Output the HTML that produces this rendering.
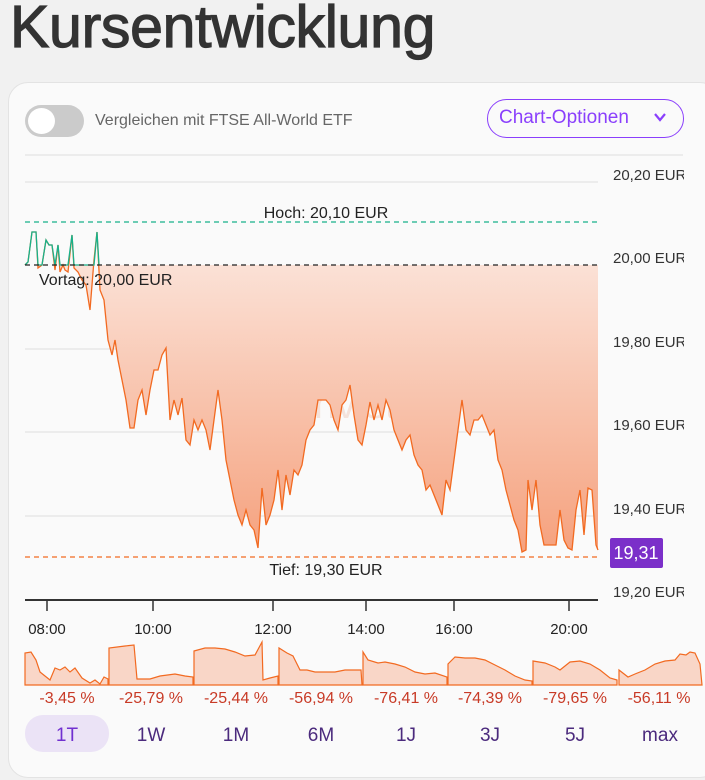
<!DOCTYPE html>
<html><head><meta charset="utf-8"><style>
body{margin:0;width:705px;height:780px;background:#f1f1f1;font-family:"Liberation Sans",sans-serif;position:relative;overflow:hidden}
.t{position:absolute;white-space:nowrap}
</style></head><body>
<div class="t" style="left:10px;top:-7px;font-size:59px;color:#333;letter-spacing:-0.3px;-webkit-text-stroke:1.2px #333">Kursentwicklung</div>
<div style="position:absolute;left:8px;top:82px;width:710px;height:694px;background:#fafafa;border:1px solid #e3e3e3;border-radius:20px"></div>
<div style="position:absolute;left:25px;top:105px;width:59px;height:32px;border-radius:16px;background:#cbcbcb"></div>
<div style="position:absolute;left:28px;top:108px;width:27px;height:26px;border-radius:50%;background:#fff"></div>
<div class="t" style="left:95px;top:112px;font-size:16px;color:#666">Vergleichen mit FTSE All-World ETF</div>
<div style="position:absolute;left:487px;top:99px;width:195px;height:37px;border:1.5px solid #8a3ffc;border-radius:20px"></div>
<div class="t" style="left:499px;top:107px;font-size:19px;color:#8a3ffc">Chart-Optionen</div>
<svg style="position:absolute;left:0;top:0" width="705" height="780">
<defs>
<linearGradient id="g" x1="0" y1="265" x2="0" y2="557" gradientUnits="userSpaceOnUse"><stop offset="0" stop-color="#fbe1d6"/><stop offset="1" stop-color="#f5a07c"/></linearGradient>
<clipPath id="below"><rect x="0" y="265" width="705" height="400"/></clipPath>
<clipPath id="above"><rect x="0" y="0" width="705" height="265"/></clipPath>
</defs>
<polyline points="655,114 660,120 665,114" fill="none" stroke="#8a3ffc" stroke-width="2.2"/>
<line x1="25" y1="155" x2="683" y2="155" stroke="#ddd"/>
<g stroke="#ddd"><line x1="25" y1="182" x2="598" y2="182"/><line x1="25" y1="349" x2="598" y2="349"/><line x1="25" y1="432" x2="598" y2="432"/><line x1="25" y1="516" x2="598" y2="516"/></g>
<g font-size="15" fill="#333"><text x="613" y="180">20,20 EUR</text><text x="613" y="263">20,00 EUR</text><text x="613" y="347">19,80 EUR</text><text x="613" y="430">19,60 EUR</text><text x="613" y="514">19,40 EUR</text><text x="613" y="597">19,20 EUR</text></g>
<rect x="684" y="160" width="30" height="450" fill="#fafafa"/>
<text x="355" y="418" font-size="40" fill="#e9b8a4" opacity="0.35" text-anchor="middle">onvista</text>
<polygon id="p" points="25,265 25,265 28,262 32,232 36,232 38,268 42,265 46,240 49,245 52,245 55,270 58,245 60,272 63,265 65,270 68,272 72,235 74,268 78,272 82,280 86,285 90,310 94,260 97,232 100,290 104,300 108,340 112,355 115,340 118,360 122,380 126,400 130,428 134,428 138,400 142,390 146,415 150,390 154,370 158,370 162,355 166,348 170,420 174,400 178,415 182,398 186,440 190,445 194,420 198,430 202,420 206,430 210,450 214,420 218,390 222,420 226,460 230,480 234,500 238,515 242,525 246,510 250,525 254,530 258,548 262,488 266,525 270,515 274,500 278,470 282,510 286,475 290,495 294,470 298,475 302,465 306,440 310,430 314,425 318,400 322,400 326,400 330,405 334,420 338,430 342,405 346,400 350,385 354,415 358,440 362,445 366,425 370,402 374,420 378,405 382,420 386,400 390,410 394,430 398,440 402,450 406,440 410,435 414,455 418,465 422,470 426,490 430,485 434,495 438,505 442,515 446,480 450,490 454,460 458,430 462,400 466,430 470,435 474,420 478,420 482,415 486,425 490,435 494,430 498,460 502,470 506,490 510,505 514,520 518,530 522,552 526,550 528,480 532,510 536,480 540,525 544,545 548,545 552,545 556,545 560,510 564,540 568,548 572,550 576,510 580,490 584,535 588,488 592,490 596,545 598,550 598,265" fill="url(#g)" clip-path="url(#below)"/>
<use href="#p" fill="#a8e0cc" clip-path="url(#above)"/>
<polyline points="25,265 28,262 32,232 36,232 38,268 42,265 46,240 49,245 52,245 55,270 58,245 60,272 63,265 65,270 68,272 72,235 74,268 78,272 82,280 86,285 90,310 94,260 97,232 100,290 104,300 108,340 112,355 115,340 118,360 122,380 126,400 130,428 134,428 138,400 142,390 146,415 150,390 154,370 158,370 162,355 166,348 170,420 174,400 178,415 182,398 186,440 190,445 194,420 198,430 202,420 206,430 210,450 214,420 218,390 222,420 226,460 230,480 234,500 238,515 242,525 246,510 250,525 254,530 258,548 262,488 266,525 270,515 274,500 278,470 282,510 286,475 290,495 294,470 298,475 302,465 306,440 310,430 314,425 318,400 322,400 326,400 330,405 334,420 338,430 342,405 346,400 350,385 354,415 358,440 362,445 366,425 370,402 374,420 378,405 382,420 386,400 390,410 394,430 398,440 402,450 406,440 410,435 414,455 418,465 422,470 426,490 430,485 434,495 438,505 442,515 446,480 450,490 454,460 458,430 462,400 466,430 470,435 474,420 478,420 482,415 486,425 490,435 494,430 498,460 502,470 506,490 510,505 514,520 518,530 522,552 526,550 528,480 532,510 536,480 540,525 544,545 548,545 552,545 556,545 560,510 564,540 568,548 572,550 576,510 580,490 584,535 588,488 592,490 596,545 598,550" fill="none" stroke="#f26a21" stroke-width="1.3"/>
<polyline points="25,265 28,262 32,232 36,232 38,265 42,265 46,240 49,245 52,245 55,265 58,245 60,265 63,265 65,265 68,265 72,235 74,265 94,265 97,232 99,265" fill="none" stroke="#18b18a" stroke-width="1.3"/>
<line x1="25" y1="222" x2="598" y2="222" stroke="#18b18a" stroke-dasharray="5,4" stroke-width="1.2"/>
<line x1="25" y1="265" x2="598" y2="265" stroke="#222" stroke-dasharray="5,4" stroke-width="1.2"/>
<line x1="25" y1="557" x2="598" y2="557" stroke="#f26a21" stroke-dasharray="5,4" stroke-width="1.2"/>
<text x="326" y="218" font-size="16" fill="#222" text-anchor="middle">Hoch: 20,10 EUR</text>
<text x="39" y="285" font-size="16" fill="#222">Vortag: 20,00 EUR</text>
<text x="326" y="575" font-size="16" fill="#222" text-anchor="middle">Tief: 19,30 EUR</text>
<rect x="610" y="538" width="53" height="30" rx="2" fill="#7b2fc9"/>
<text x="636" y="559" font-size="18" fill="#fff" text-anchor="middle">19,31</text>
<line x1="25" y1="600" x2="598" y2="600" stroke="#333" stroke-width="2"/>
<g stroke="#333" stroke-width="1.5"><line x1="47" y1="600" x2="47" y2="611"/><line x1="153" y1="600" x2="153" y2="611"/><line x1="273" y1="600" x2="273" y2="611"/><line x1="366" y1="600" x2="366" y2="611"/><line x1="454" y1="600" x2="454" y2="611"/><line x1="569" y1="600" x2="569" y2="611"/></g>
<g font-size="15" fill="#222" text-anchor="middle"><text x="47" y="634">08:00</text><text x="153" y="634">10:00</text><text x="273" y="634">12:00</text><text x="366" y="634">14:00</text><text x="454" y="634">16:00</text><text x="569" y="634">20:00</text></g>
<g fill="#f9d6c7" stroke="#f26a21" stroke-width="1.2">
<path d="M25,683 L25,653 L31,652 L36,660 L40,672 L45,676 L50,680 L55,668 L60,670 L65,667 L70,672 L75,668 L82,678 L90,683 L95,680 L100,684 L104,677 L108,679 L108,685 L25,685Z"/>
<path d="M109,685 L109,648 L125,646 L134,645 L137,679 L150,679 L160,676 L175,674 L185,676 L193,677 L193,685Z"/>
<path d="M194,685 L194,651 L205,648 L215,648 L225,649 L235,652 L245,656 L255,655 L262,642 L263,680 L270,678 L278,676 L278,685Z"/>
<path d="M279,685 L279,648 L287,653 L293,656 L295,660 L300,670 L307,670 L315,672 L325,672 L335,672 L345,670 L361,670 L362,685Z"/>
<path d="M363,685 L363,652 L368,660 L378,663 L385,662 L395,664 L405,667 L415,672 L425,674 L435,673 L447,677 L447,685Z"/>
<path d="M448,685 L448,664 L455,657 L465,658 L475,658 L485,660 L495,665 L505,670 L515,676 L525,680 L532,681 L532,685Z"/>
<path d="M533,685 L533,661 L545,663 L555,667 L560,670 L570,662 L580,661 L590,664 L600,670 L610,678 L617,680 L617,685Z"/>
<path d="M619,685 L619,670 L628,677 L635,674 L645,670 L655,664 L665,661 L675,660 L680,654 L686,655 L690,652 L695,653 L700,664 L702,685Z"/>
</g>
<g font-size="16" fill="#c83a26" text-anchor="middle"><text x="67" y="703">-3,45 %</text><text x="151" y="703">-25,79 %</text><text x="236" y="703">-25,44 %</text><text x="321" y="703">-56,94 %</text><text x="406" y="703">-76,41 %</text><text x="490" y="703">-74,39 %</text><text x="575" y="703">-79,65 %</text><text x="659" y="703">-56,11 %</text></g>
<rect x="25" y="715" width="84" height="37" rx="18" fill="#ebe3f6"/>
<g font-size="19" fill="#4b2a7d" text-anchor="middle"><text x="67" y="741" fill="#7130d0">1T</text><text x="151" y="741">1W</text><text x="236" y="741">1M</text><text x="321" y="741">6M</text><text x="406" y="741">1J</text><text x="490" y="741">3J</text><text x="575" y="741">5J</text><text x="660" y="741">max</text></g>
</svg>
</body></html>
